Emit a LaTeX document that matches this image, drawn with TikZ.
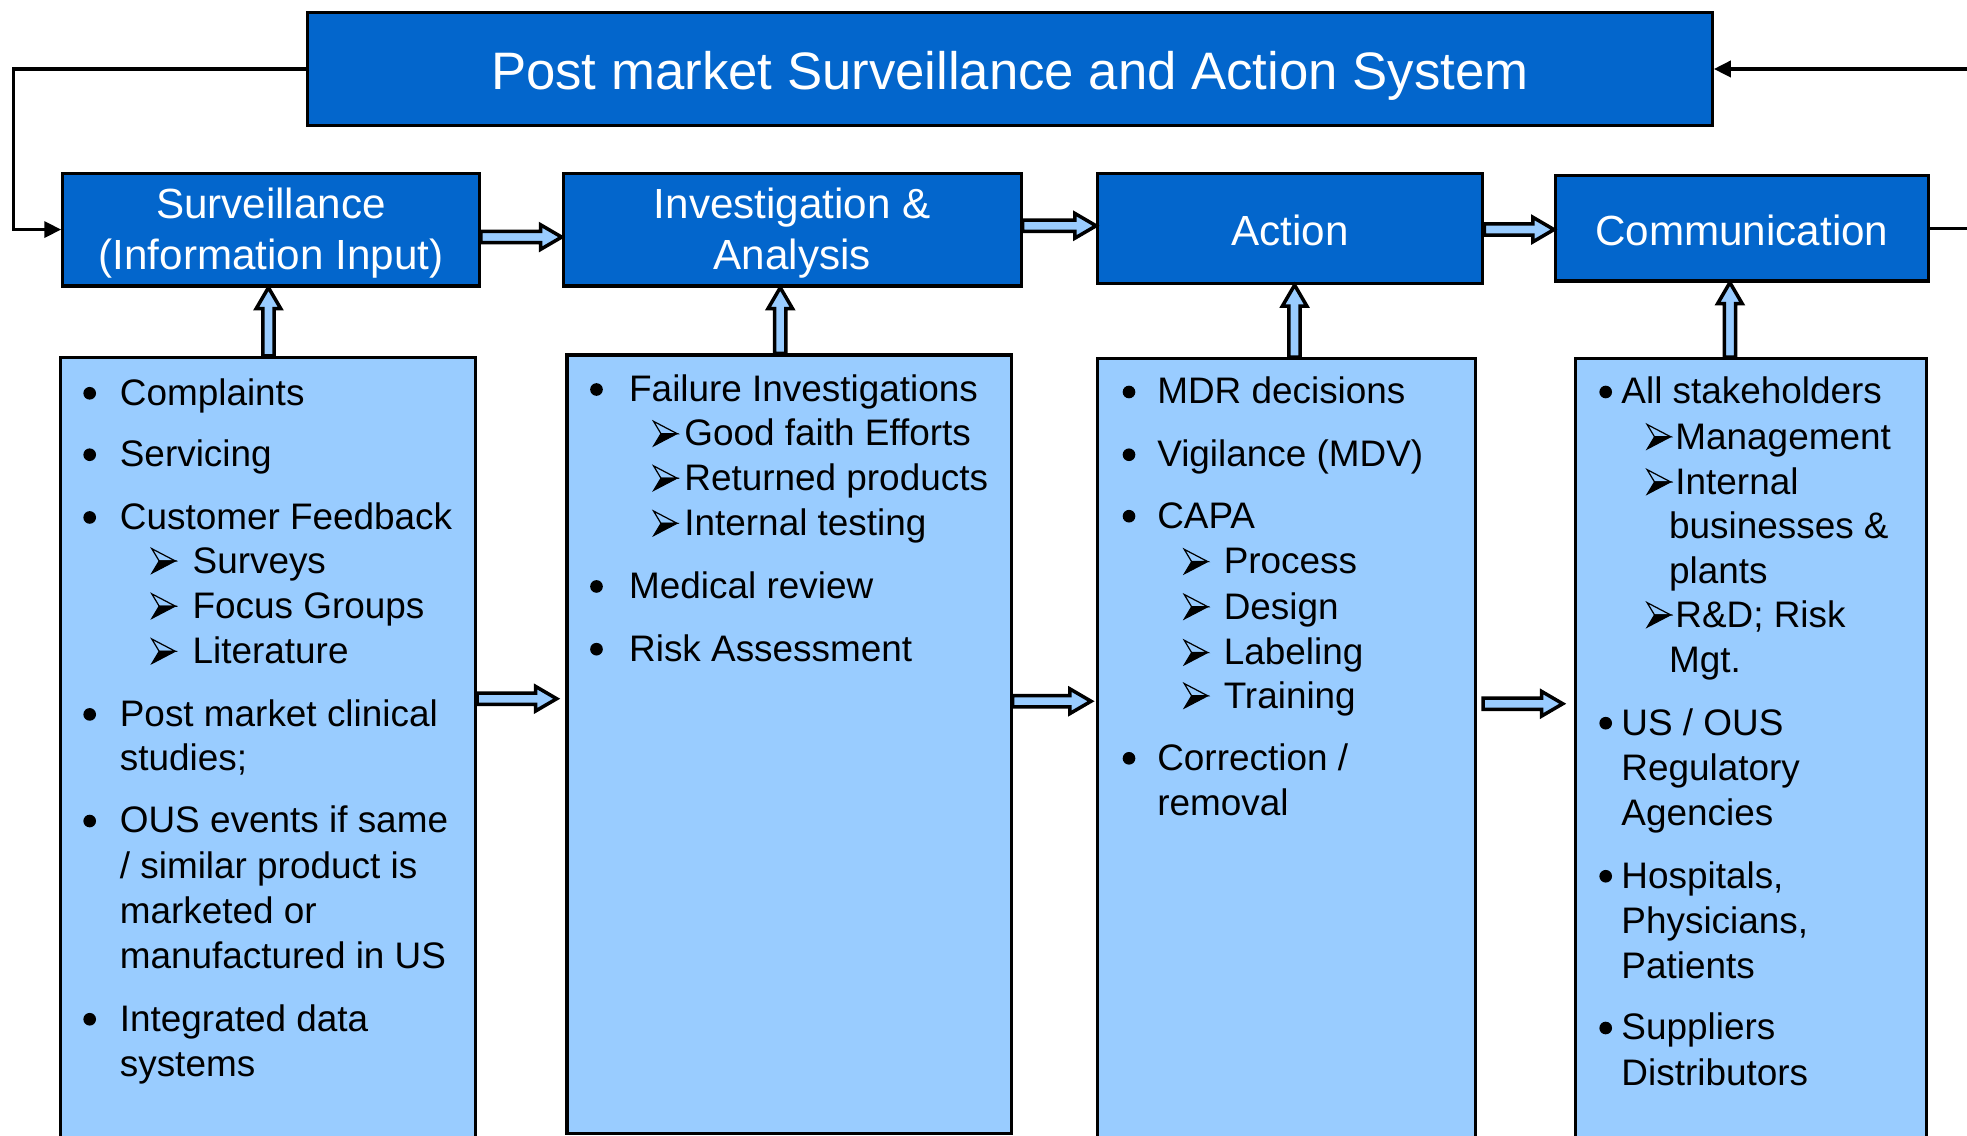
\documentclass[tikz,border=0pt]{standalone}
\usepackage{fontspec}
\setmainfont{Liberation Sans}
\usepackage{tikz}
\usetikzlibrary{calc,fit,arrows.meta}
\definecolor{deepblue}{HTML}{0366CC}
\definecolor{pale}{HTML}{99CCFF}
\tikzset{
  hdr/.style={draw=black, fill=deepblue, line width=0.9pt, inner sep=0pt},
  hdrtxt/.style={text=white, align=center, inner sep=0pt, font=\fontsize{12}{14.6}\selectfont},
  bannertxt/.style={hdrtxt, font=\fontsize{15}{18}\selectfont},
  panel/.style={draw=black, fill=pale, line width=0.9pt, inner sep=0pt},
  txt/.style={anchor=base west, inner sep=0pt, font=\fontsize{10.5}{12.8}\selectfont},
  back/.style={draw=black, line width=0.9pt, -{Triangle[length=4.8pt,width=4.6pt]}},
  hollow/.style={draw=black, fill=pale, line width=1pt, line join=miter},
  % list arrowhead, dark lower half and outlined upper half
  pics/ahead/.style={code={
    \filldraw[line width=0.3pt, line join=miter] (2.1pt,3.5pt) -- (6.7pt,3.5pt) -- (0pt,0pt) -- cycle;
    \draw[line width=0.35pt, line join=miter] (0pt,7pt) -- (6.7pt,3.5pt) -- (2.1pt,3.5pt) -- cycle;
  }},
}
\def\shaftw{1.6pt}
\def\headw{3.5pt}
\def\headl{6pt}
% fat outlined arrows, pointing right / up
\newcommand\blockright[2]{\draw[hollow] let \p1=#1, \p2=#2 in
  (\x1,\y1+\shaftw) -- (\x2-\headl,\y1+\shaftw) -- (\x2-\headl,\y1+\headw)
  -- (\x2,\y1) -- (\x2-\headl,\y1-\headw) -- (\x2-\headl,\y1-\shaftw)
  -- (\x1,\y1-\shaftw) -- cycle;}
\newcommand\blockup[2]{\draw[hollow] let \p1=#1, \p2=#2 in
  (\x1+\shaftw,\y1) -- (\x1+\shaftw,\y2-\headl) -- (\x1+\headw,\y2-\headl)
  -- (\x1,\y2) -- (\x1-\headw,\y2-\headl) -- (\x1-\shaftw,\y2-\headl)
  -- (\x1-\shaftw,\y1) -- cycle;}

\begin{document}
\begin{tikzpicture}[x=0.012545cm, y=-0.012545cm]
  \useasboundingbox (0,0) rectangle (1568,905);

  % top row
  \node[hdr, fit={(245,10) (1365,100)}] (sys) {};
  \node[hdr, fit={(50,138) (382,228)}] (surv) {};
  \node[hdr, fit={(449,138) (814,228)}] (inv) {};
  \node[hdr, fit={(875,138) (1182,226)}] (act) {};
  \node[hdr, fit={(1240,140) (1537,224)}] (comm) {};
  \node[bannertxt] (syst) at ($(sys)+(0,5.5)$) {Post market Surveillance and Action System};
  \node[hdrtxt] (survt) at ($(surv)+(0,3)$) {Surveillance\\(Information Input)};
  \node[hdrtxt] (invt) at ($(inv)+(0,3)$) {Investigation \&\\Analysis};
  \node[hdrtxt] (actt) at ($(act)+(0,1.5)$) {Action};
  \node[hdrtxt] (commt) at ($(comm)+(0,1.5)$) {Communication};

  % lists
  \node[panel, fit={(48,285) (379,915)}] (l1) {};
  \node[panel, fit={(452,283) (806,903.5)}] (l2) {};
  \node[panel, fit={(875,286) (1176,915)}] (l3) {};
  \node[panel, fit={(1256,286) (1536,915)}] (l4) {};

  % closing loop
  \draw[back] (sys.west) -- (11,55) |- (surv.west);
  \draw[back] (comm.east) -- (1600,182) |- (sys.east);

  \blockright{(surv.east |- 0,189)}{(inv.west |- 0,189)}
  \blockright{(inv.east |- 0,180)}{(act.west |- 0,180)}
  \blockright{(act.east |- 0,183)}{(comm.west |- 0,183)}
  \blockright{(l1.east |- 0,557)}{($(l2.west |- 0,557)+(-7,0)$)}
  \blockright{(l2.east |- 0,559)}{($(l3.west |- 0,559)+(-4,0)$)}
  \blockright{($(l3.east |- 0,561)+(5,0)$)}{($(l4.west |- 0,561)+(-9,0)$)}

  \blockup{(l1.north -| 214,0)}{(surv.south -| 214,0)}
  \blockup{(l2.north -| 622,0)}{(inv.south -| 622,0)}
  \blockup{(l3.north -| 1032,0)}{(act.south -| 1032,0)}
  \blockup{(l4.north -| 1379,0)}{(comm.south -| 1379,0)}

  % surveillance inputs
  \foreach \y/\t [count=\i] in {323/Complaints, 372/Servicing, 422/Customer Feedback,
      579/Post market clinical, 664/OUS events if same, 822/Integrated data}{
    \fill (71.5,\y-9.5) circle (1.8pt);
    \node[txt] (a\i) at (95,\y) {\t};
  }
  \foreach \y/\t [count=\i] in {457/Surveys, 493/Focus Groups, 529/Literature}{
    \pic at (121,\y) {ahead};
    \node[txt] (as\i) at (153,\y) {\t};
  }
  \foreach \y/\t [count=\i] in {614/studies;, 700/{/ similar product is}, 736/marketed or,
      772/manufactured in US, 858/systems}
    \node[txt] (ac\i) at (95,\y) {\t};

  % investigation
  \foreach \y/\t [count=\i] in {320/Failure Investigations, 477/Medical review, 527/Risk Assessment}{
    \fill (475.5,\y-9.5) circle (1.8pt);
    \node[txt] (b\i) at (501,\y) {\t};
  }
  \foreach \y/\t [count=\i] in {355.5/Good faith Efforts, 391/Returned products, 427/Internal testing}{
    \pic at (521,\y) {ahead};
    \node[txt] (bs\i) at (545,\y) {\t};
  }

  % action
  \foreach \y/\t [count=\i] in {322/MDR decisions, 372/{Vigilance (MDV)}, 421/CAPA, 614/{Correction /}}{
    \fill (900,\y-9.5) circle (1.8pt);
    \node[txt] (c\i) at (922,\y) {\t};
  }
  \foreach \y/\t [count=\i] in {457.5/Process, 493.5/Design, 530/Labeling, 564.5/Training}{
    \pic at (944,\y) {ahead};
    \node[txt] (cs\i) at (975,\y) {\t};
  }
  \node[txt] (cc1) at (922,650) {removal};

  % communication
  \foreach \y/\t [count=\i] in {322/All stakeholders, 586/{US / OUS}, 708/{Hospitals,}, 829/Suppliers}{
    \fill (1280,\y-9.5) circle (1.8pt);
    \node[txt] (d\i) at (1292,\y) {\t};
  }
  \foreach \y/\t [count=\i] in {358/Management, 394/Internal, 500/{R\&D; Risk}}{
    \pic at (1313,\y) {ahead};
    \node[txt] (ds\i) at (1335,\y) {\t};
  }
  \foreach \y/\t [count=\i] in {429/{businesses \&}, 465/plants, 536/Mgt.}
    \node[txt] (dc\i) at (1330,\y) {\t};
  \foreach \y/\t [count=\i] in {622/Regulatory, 658/Agencies, 744/{Physicians,}, 780/Patients, 865/Distributors}
    \node[txt] (dd\i) at (1292,\y) {\t};
\end{tikzpicture}
\end{document}
